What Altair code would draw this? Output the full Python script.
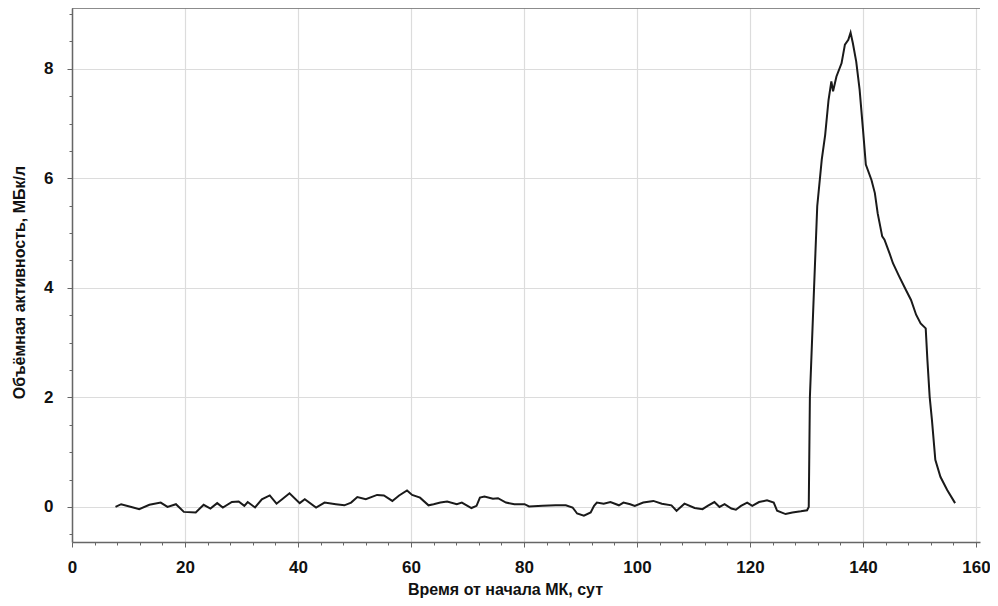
import altair as alt
import pandas as pd

days = [7.7, 8.7, 10.5, 11.9, 13.7, 15.7, 16.9, 18.4, 19.8, 21.9, 23.3, 24.5, 25.7, 26.7,
        28.3, 29.5, 30.5, 31.1, 32.4, 33.6, 35.0, 36.2, 37.3, 38.5, 40.3, 41.2, 43.2, 44.7,
        46.7, 48.2, 49.4, 50.5, 52.0, 54.0, 55.2, 56.7, 57.9, 59.3, 60.2, 61.6, 63.1, 64.0,
        65.2, 66.4, 68.1, 69.0, 70.7, 71.6, 72.2, 73.0, 74.5, 75.4, 76.8, 78.3, 80.1, 80.9,
        83.3, 85.6, 87.4, 88.6, 89.4, 90.6, 91.8, 92.4, 92.9, 94.1, 95.3, 96.8, 97.6, 98.8,
        99.6, 101.1, 102.9, 104.4, 106.1, 107.0, 108.4, 110.2, 111.6, 112.5, 113.7, 114.6,
        115.5, 116.7, 117.5, 118.4, 119.5, 120.4, 121.6, 123.0, 124.2, 124.8, 126.3, 127.5,
        129.0, 130.1, 130.4, 130.6, 131.3, 131.9, 132.7, 133.3, 133.9, 134.4, 134.7, 135.3,
        136.2, 136.8, 137.4, 137.8, 138.2, 138.8, 139.4, 140.0, 140.5, 141.5, 142.1, 142.6,
        143.4, 143.8, 144.7, 145.3, 146.4, 147.6, 148.5, 149.4, 150.2, 151.1, 151.4, 151.8,
        152.2, 152.8, 153.7, 154.9, 156.3]
activity = [0.0, 0.05, 0.0, -0.04, 0.04, 0.08, 0.0, 0.05, -0.09, -0.1, 0.04, -0.03, 0.07, -0.01,
            0.09, 0.1, 0.02, 0.09, -0.01, 0.14, 0.21, 0.06, 0.15, 0.25, 0.07, 0.14, -0.01, 0.08,
            0.05, 0.03, 0.08, 0.18, 0.14, 0.22, 0.21, 0.11, 0.21, 0.3, 0.22, 0.17, 0.03, 0.05,
            0.08, 0.1, 0.05, 0.08, -0.02, 0.02, 0.17, 0.19, 0.15, 0.16, 0.08, 0.05, 0.05, 0.01,
            0.02, 0.03, 0.03, -0.01, -0.12, -0.16, -0.1, 0.02, 0.08, 0.06, 0.09, 0.03, 0.08, 0.05,
            0.02, 0.08, 0.11, 0.06, 0.03, -0.07, 0.06, -0.02, -0.04, 0.02, 0.09, 0.0,
            0.05, -0.03, -0.05, 0.02, 0.08, 0.02, 0.09, 0.12, 0.08, -0.07, -0.13, -0.1,
            -0.08, -0.06, 0.0, 2.0, 3.9, 5.49, 6.34, 6.79, 7.43, 7.77, 7.59, 7.86,
            8.1, 8.44, 8.53, 8.66, 8.47, 8.13, 7.62, 6.89, 6.25, 5.97, 5.73, 5.36,
            4.94, 4.88, 4.63, 4.45, 4.21, 3.96, 3.78, 3.51, 3.35, 3.26, 2.68, 2.01,
            1.59, 0.86, 0.55, 0.31, 0.07]

x_ticks = list(range(0, 161, 4))
y_ticks = [v / 2 for v in range(-1, 19)]

x_title = "Время от начала МК, сут"
y_title = "Объёмная активность, МБк/л"

df = pd.DataFrame({"t": days, "a": activity})

W, H = 908, 534
XMAX = 160 * W / 904.0
FONT = "Liberation Sans, Arial, sans-serif"

x_major = "datum.value % 20 == 0"
y_major = "abs(datum.value % 2) < 0.01"

x_axis = alt.Axis(
    values=x_ticks,
    labelExpr=f"{x_major} ? format(datum.value, 'd') : ''",
    gridOpacity={"condition": {"test": x_major, "value": 1}, "value": 0},
    tickSize={"condition": {"test": x_major, "value": 5}, "value": 3},
    title=x_title,
    titleX=433, titleY=47, titleBaseline="middle",
    labelPadding=12,
    labelFlush=False,
)
y_axis = alt.Axis(
    values=y_ticks,
    labelExpr=f"{y_major} ? format(datum.value, 'd') : ''",
    gridOpacity={"condition": {"test": y_major, "value": 1}, "value": 0},
    tickSize={"condition": {"test": y_major, "value": 5}, "value": 3},
    title=y_title,
    titleX=-53, titleY=274, titleBaseline="middle", titleAngle=-90,
    labelPadding=14,
    labelFlush=False,
)

line = alt.Chart(df).mark_line(color="#1a1a1a", strokeWidth=2, clip=True).encode(
    x=alt.X("t:Q", scale=alt.Scale(domain=[0, XMAX], nice=False, zero=False), axis=x_axis),
    y=alt.Y("a:Q", scale=alt.Scale(domain=[-0.64, 9.11], nice=False, zero=False), axis=y_axis),
    order="t:Q",
)

top = alt.Chart(pd.DataFrame({"k": [0]})).mark_rule(color="#666666", strokeWidth=1.5).encode(
    x=alt.value(0), x2=alt.value(W), y=alt.value(0)
)

chart = (
    alt.layer(line, top)
    .properties(
        width=W, height=H,
        padding={"left": 64, "top": 0, "right": 10, "bottom": 56},
        autosize=alt.AutoSizeParams(type="none"),
        background="white",
    )
    .configure_view(stroke=None)
    .configure_axis(
        domainColor="#666666", domainWidth=1.5,
        tickColor="#666666", tickWidth=1,
        gridColor="#dcdcdc", gridWidth=1.2,
        labelFont=FONT, labelFontSize=17, labelFontWeight="bold", labelColor="#111111",
        titleFont=FONT, titleFontSize=16, titleFontWeight="bold", titleColor="#111111",
    )
)

chart.save("out.html", embed_options={"renderer": "svg", "actions": False})
